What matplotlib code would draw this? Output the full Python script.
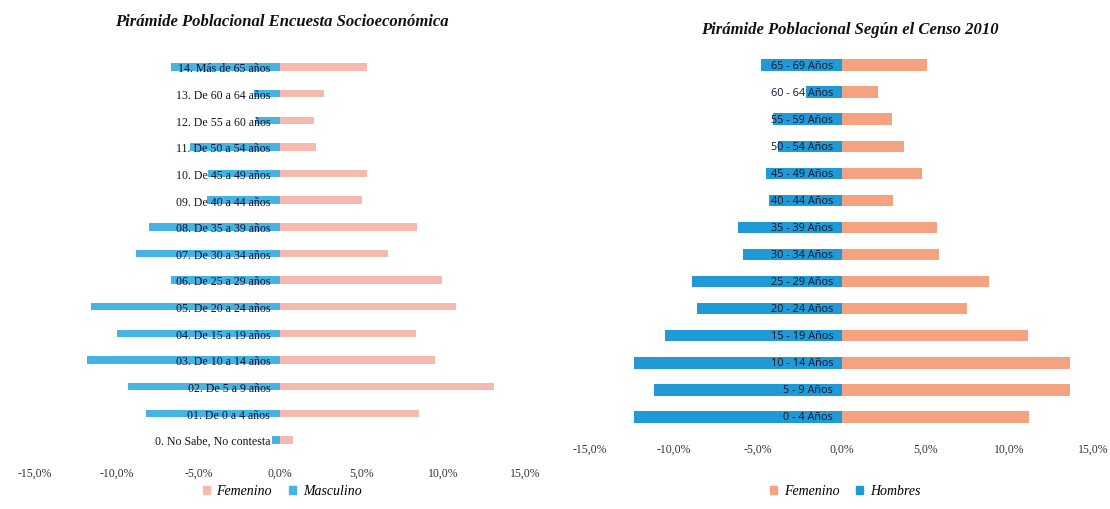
import matplotlib
matplotlib.use("Agg")
import matplotlib.pyplot as plt
from matplotlib.patches import Patch

# ---------------- data ----------------
left_title = "Pirámide Poblacional Encuesta Socioeconómica"
left_categories = [
    "0. No Sabe, No contesta",
    "01. De 0 a 4 años",
    "02. De 5 a 9 años",
    "03. De 10 a 14 años",
    "04. De 15 a 19 años",
    "05. De 20 a 24 años",
    "06. De 25 a 29 años",
    "07. De 30 a 34 años",
    "08. De 35 a 39 años",
    "09. De 40 a 44 años",
    "10. De 45 a 49 años",
    "11. De 50 a 54 años",
    "12. De 55 a 60 años",
    "13. De 60 a 64 años",
    "14. Más de 65 años",
]
left_female = [0.8, 8.5, 13.1, 9.5, 8.3, 10.8, 9.9, 6.6, 8.4, 5.0, 5.3, 2.2, 2.1, 2.7, 5.3]
left_male = [0.5, 8.2, 9.3, 11.8, 10.0, 11.6, 6.7, 8.8, 8.0, 4.5, 4.4, 5.5, 1.5, 1.6, 6.7]
left_legend = ["Femenino", "Masculino"]

right_title = "Pirámide Poblacional Según el Censo 2010"
right_categories = [
    "0 - 4 Años",
    "5 - 9 Años",
    "10 - 14 Años",
    "15 - 19 Años",
    "20 - 24 Años",
    "25 - 29 Años",
    "30 - 34 Años",
    "35 - 39 Años",
    "40 - 44 Años",
    "45 - 49 Años",
    "50 - 54 Años",
    "55 - 59 Años",
    "60 - 64 Años",
    "65 - 69 Años",
]
right_female = [11.2, 13.6, 13.6, 11.1, 7.5, 8.8, 5.8, 5.7, 3.1, 4.8, 3.7, 3.0, 2.2, 5.1]
right_male = [12.4, 11.2, 12.4, 10.5, 8.6, 8.9, 5.9, 6.2, 4.3, 4.5, 3.8, 4.1, 2.1, 4.8]
right_legend = ["Femenino", "Hombres"]

tick_values = [-15, -10, -5, 0, 5, 10, 15]
tick_labels = ["-15,0%", "-10,0%", "-5,0%", "0,0%", "5,0%", "10,0%", "15,0%"]

# ---------------- styling ----------------
W, H = 1110, 510
fig = plt.figure(figsize=(W / 100, H / 100), dpi=100)
fig.patch.set_facecolor("white")

serif = ["Liberation Serif", "DejaVu Serif"]
sans = ["Open Sans", "DejaVu Sans"]

L_PINK = "#f5b9ae"
L_BLUE = "#45b3e4"
R_ORANGE = "#f4a27f"
R_BLUE = "#1f9ad6"


def px_axes(x0, x1, ytop, ybot):
    return fig.add_axes([x0 / W, (H - ybot) / H, (x1 - x0) / W, (ybot - ytop) / H])


def style_axis(ax, label_family, tick_size, pad):
    for s in ax.spines.values():
        s.set_visible(False)
    ax.set_xlim(-15, 15)
    ax.set_xticks(tick_values)
    ax.set_xticklabels(tick_labels, family=label_family, fontsize=tick_size, color="#333333")
    ax.tick_params(axis="x", length=0, pad=pad)
    ax.set_yticks([])


# ---- left chart ----
axL = px_axes(35, 525, 55, 455)
yL = list(range(len(left_categories)))
axL.barh(yL, left_female, height=0.28, color=L_PINK, zorder=2)
axL.barh(yL, [-v for v in left_male], height=0.28, color=L_BLUE, zorder=2)
axL.set_ylim(-0.53, 14.49)
style_axis(axL, serif, 8.5, 9)
for y, lab in zip(yL, left_categories):
    axL.text(-0.6, y - 0.05, lab, ha="right", va="center", family=serif, fontsize=8.6,
             color="#14142a", zorder=3)
fig.text(282 / W, 1 - 22 / H, left_title, ha="center", va="center",
         family=serif, fontsize=12, fontweight="bold", style="italic", color="#111111")
fig.legend(handles=[Patch(color=L_PINK), Patch(color=L_BLUE)], labels=left_legend,
           loc="center", bbox_to_anchor=(282 / W, 1 - 492 / H), ncol=2, frameon=False,
           prop={"family": serif, "style": "italic", "size": 10},
           handlelength=0.5, handleheight=0.5, handletextpad=0.5, columnspacing=1.2)

# ---- right chart ----
axR = px_axes(590, 1093, 52.5, 431.5)
yR = list(range(len(right_categories)))
axR.barh(yR, right_female, height=0.42, color=R_ORANGE, zorder=2)
axR.barh(yR, [-v for v in right_male], height=0.42, color=R_BLUE, zorder=2)
axR.set_ylim(-0.5, 13.5)
style_axis(axR, serif, 8.5, 9)
for y, lab in zip(yR, right_categories):
    axR.text(-0.5, y, lab, ha="right", va="center", family=sans, fontsize=7.8,
             color="#14142a", zorder=3)
fig.text(850 / W, 1 - 30 / H, right_title, ha="center", va="center",
         family=serif, fontsize=12, fontweight="bold", style="italic", color="#111111")
fig.legend(handles=[Patch(color=R_ORANGE), Patch(color=R_BLUE)], labels=right_legend,
           loc="center", bbox_to_anchor=(845 / W, 1 - 492 / H), ncol=2, frameon=False,
           prop={"family": serif, "style": "italic", "size": 10},
           handlelength=0.5, handleheight=0.5, handletextpad=0.5, columnspacing=1.2)

fig.savefig("out.png", dpi=100, facecolor="white")
